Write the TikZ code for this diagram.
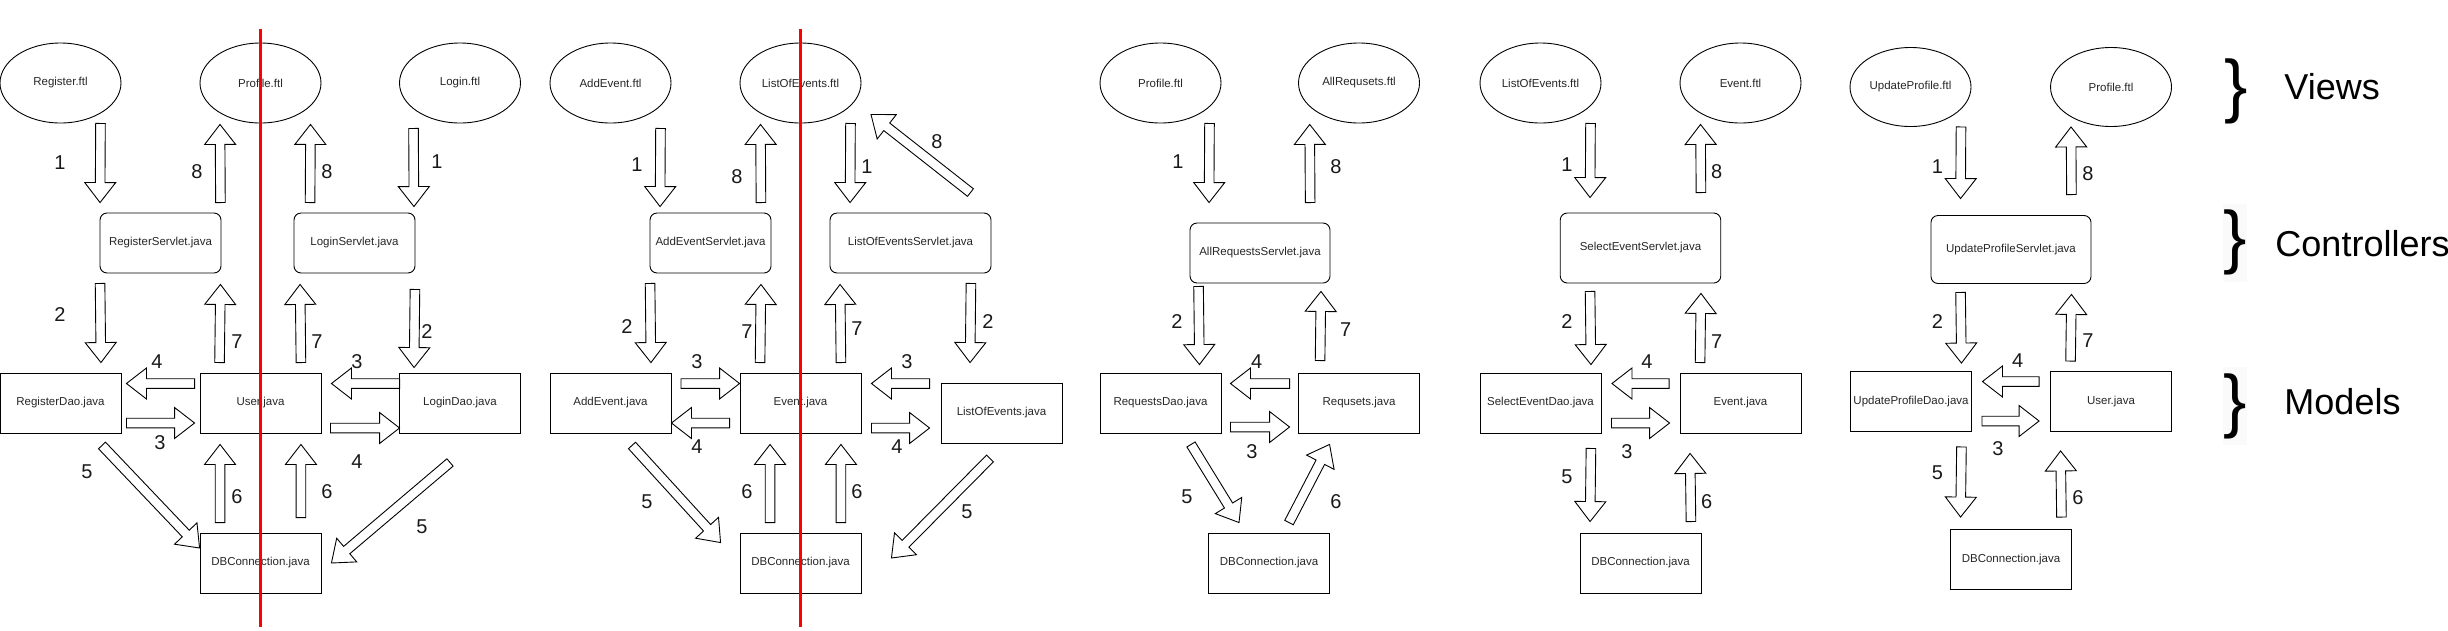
\documentclass[tikz,border=0pt]{standalone}
\usepackage{fontspec}
\setmainfont{Liberation Sans}
\usetikzlibrary{shapes.geometric,calc}

\newcommand{\lblfont}{\fontsize{11.5}{13}\selectfont}
\newcommand{\numfont}{\fontsize{20}{22}\selectfont}

% hollow block arrow from #1 to #2
\newcommand{\blockarrow}[2]{%
  \coordinate (ba) at #1;
  \coordinate (bb) at #2;
  \coordinate (bn) at ($(bb)!20pt!(ba)$);
  \draw[fill=white] ($(ba)!4.8pt!90:(bb)$) -- ($(bn)!4.8pt!-90:(ba)$)
    -- ($(bn)!15.5pt!-90:(ba)$) -- (bb) -- ($(bn)!15.5pt!90:(ba)$)
    -- ($(bn)!4.8pt!90:(ba)$) -- ($(ba)!4.8pt!-90:(bb)$) -- cycle;
}

\tikzset{
  view/.style={ellipse, draw, minimum width=121pt, minimum height=80pt,
    inner sep=0pt, font=\lblfont, text=black!85},
  ctrl/.style={rectangle, draw, rounded corners=7pt, minimum width=121pt,
    minimum height=60pt, inner sep=0pt, font=\lblfont, text=black!85},
  model/.style={rectangle, draw, minimum width=121pt, minimum height=60pt,
    inner sep=0pt, font=\lblfont, text=black!85},
  num/.style={font=\numfont, text=black!90, inner sep=0pt},
  tier/.style={font=\fontsize{36}{40}\selectfont, anchor=west, inner sep=0pt},
  brace/.style={font=\fontsize{70}{70}\selectfont, inner sep=0pt},
  cutline/.style={red, line width=2.6pt}
}

\begin{document}
\begin{tikzpicture}[x=1pt, y=-1pt, line width=0.9pt]
  \useasboundingbox (0,0) rectangle (2448,630);

  % Register / Login
  \node[view] (regv) at (60.5,83) {Register.ftl};
  \node[view] (prov) at (260.5,83) {Profile.ftl};
  \node[view] (logv) at (460,83) {Login.ftl};
  \node[ctrl] (regsrv) at (160.5,243) {RegisterServlet.java};
  \node[ctrl] (logsrv) at (354.5,243) {LoginServlet.java};
  \node[model] (regdao) at (60.5,403) {RegisterDao.java};
  \node[model] (user) at (260.5,403) {User.java};
  \node[model] (logdao) at (460,403) {LoginDao.java};
  \node[model] (db) at (260.5,563) {DBConnection.java};

  \blockarrow{($(regv.south)+(40,0)$)}{($(regsrv.north west)+(0.5,-10)$)}
  \blockarrow{($(regsrv.north east)+(-1,-10)$)}{($(prov.south)+(-40.5,1)$)}
  \blockarrow{($(logsrv.north west)+(16.5,-10)$)}{($(prov.south)+(50,1)$)}
  \blockarrow{($(logv.south)+(-46.5,5)$)}{($(logsrv.north east)+(-1.5,-6)$)}
  \blockarrow{($(regsrv.south west)+(0.5,10)$)}{($(regdao.north east)+(-20.5,-10)$)}
  \blockarrow{($(user.north west)+(20,-10)$)}{($(regsrv.south east)+(-1,11)$)}
  \blockarrow{($(user.north east)+(-20.5,-10)$)}{($(logsrv.south west)+(6.5,11)$)}
  \blockarrow{($(logsrv.south east)+(-0.5,16)$)}{($(logdao.north west)+(15,-5)$)}
  \blockarrow{($(user.west)+(-5,-19.5)$)}{($(regdao.east)+(5,-19.5)$)}
  \blockarrow{($(regdao.east)+(5,20)$)}{($(user.west)+(-5,20)$)}
  \blockarrow{($(logdao.west)+(0.5,-19.5)$)}{($(user.east)+(10,-19.5)$)}
  \blockarrow{($(user.east)+(9,25)$)}{($(logdao.west)+(0.5,25)$)}
  \blockarrow{($(regdao.south)+(41.5,12)$)}{($(db.west)+(0,-15)$)}
  \blockarrow{($(db.north west)+(20.5,-10)$)}{($(user.south west)+(20.5,11)$)}
  \blockarrow{($(db.north east)+(-20.5,-15)$)}{($(user.south east)+(-20.5,11)$)}
  \blockarrow{($(logdao.south)+(-10,29)$)}{($(db.east)+(10,0)$)}

  \node[num] (n1a) at (60,163) {1};
  \node[num] (n1b) at (197,172) {8};
  \node[num] (n1c) at (327,172) {8};
  \node[num] (n1d) at (437,162) {1};
  \node[num] (n1e) at (60,315) {2};
  \node[num] (n1f) at (237,342) {7};
  \node[num] (n1g) at (317,342) {7};
  \node[num] (n1h) at (427,332) {2};
  \node[num] (n1i) at (157,362) {4};
  \node[num] (n1j) at (160,443) {3};
  \node[num] (n1k) at (357,362) {3};
  \node[num] (n1l) at (357,462) {4};
  \node[num] (n1m) at (87,472) {5};
  \node[num] (n1n) at (237,497) {6};
  \node[num] (n1o) at (327,492) {6};
  \node[num] (n1p) at (422,527) {5};

  % AddEvent / ListOfEvents
  \node[view] (addv) at (610.5,83) {AddEvent.ftl};
  \node[view] (lstv) at (800.5,83) {ListOfEvents.ftl};
  \node[ctrl] (addsrv) at (710.5,243) {AddEventServlet.java};
  \node[ctrl, minimum width=161pt] (lstsrv) at (910.5,243) {ListOfEventsServlet.java};
  \node[model] (adddao) at (610.5,403) {AddEvent.java};
  \node[model] (event) at (800.5,403) {Event.java};
  \node[model] (lstdao) at (1001.5,413) {ListOfEvents.java};
  \node[model] (db2) at (800.5,563) {DBConnection.java};

  \blockarrow{($(addv.south)+(50,5)$)}{($(addsrv.north west)+(10.5,-6)$)}
  \blockarrow{($(addsrv.north east)+(-10.5,-10)$)}{($(lstv.south)+(-40,1)$)}
  \blockarrow{($(lstv.south)+(50,0)$)}{($(lstsrv.north west)+(20.5,-10)$)}
  \blockarrow{($(lstsrv.north east)+(-21,-20)$)}{($(lstv.south)+(70.5,-9)$)}
  \blockarrow{($(addsrv.south west)+(0.5,10)$)}{($(adddao.north east)+(-20.5,-10)$)}
  \blockarrow{($(event.north west)+(20.5,-10)$)}{($(addsrv.south east)+(-10.5,11)$)}
  \blockarrow{($(event.north east)+(-20.5,-10)$)}{($(lstsrv.south west)+(10.5,11)$)}
  \blockarrow{($(lstsrv.south east)+(-20.5,10)$)}{($(lstdao.north west)+(29.5,-20)$)}
  \blockarrow{($(adddao.east)+(9.5,-19.5)$)}{($(event.west)+(0,-19.5)$)}
  \blockarrow{($(event.west)+(-10,20)$)}{($(adddao.east)+(0,20)$)}
  \blockarrow{($(lstdao.west)+(-11,-29.5)$)}{($(event.east)+(10,-19.5)$)}
  \blockarrow{($(event.east)+(10,25)$)}{($(lstdao.west)+(-11,15)$)}
  \blockarrow{($(adddao.south)+(21.5,12)$)}{($(db2.north west)+(-19,10)$)}
  \blockarrow{($(db2.north west)+(30.5,-10)$)}{($(event.south west)+(30.5,11)$)}
  \blockarrow{($(db2.north east)+(-20.5,-10)$)}{($(event.south east)+(-20.5,11)$)}
  \blockarrow{($(lstdao.south)+(-11.5,15)$)}{($(db2.east)+(30,-5)$)}

  \node[num] (n2a) at (637,165) {1};
  \node[num] (n2b) at (737,177) {8};
  \node[num] (n2c) at (867,167) {1};
  \node[num] (n2d) at (937,142) {8};
  \node[num] (n2e) at (627,327) {2};
  \node[num] (n2f) at (747,332) {7};
  \node[num] (n2g) at (857,329) {7};
  \node[num] (n2h) at (988,322) {2};
  \node[num] (n2i) at (697,362) {3};
  \node[num] (n2j) at (697,447) {4};
  \node[num] (n2k) at (907,362) {3};
  \node[num] (n2l) at (897,447) {4};
  \node[num] (n2m) at (647,502) {5};
  \node[num] (n2n) at (747,492) {6};
  \node[num] (n2o) at (857,492) {6};
  \node[num] (n2p) at (967,512) {5};

  % AllRequests
  \node[view] (pro3v) at (1160.5,83) {Profile.ftl};
  \node[view] (reqv) at (1359,83) {AllRequsets.ftl};
  \node[ctrl, minimum width=140pt] (reqsrv) at (1260,253) {AllRequestsServlet.java};
  \node[model] (reqdao) at (1160.5,403) {RequestsDao.java};
  \node[model] (reqs) at (1359,403) {Requsets.java};
  \node[model] (db3) at (1269,563) {DBConnection.java};

  \blockarrow{($(pro3v.south)+(49,0)$)}{($(reqsrv.north west)+(19.5,-20)$)}
  \blockarrow{($(reqsrv.north east)+(-20.3,-20)$)}{($(reqv.south)+(-49.3,1)$)}
  \blockarrow{($(reqsrv.south west)+(9,3)$)}{($(reqdao.north east)+(-22,-8)$)}
  \blockarrow{($(reqs.north west)+(22,-12)$)}{($(reqsrv.south east)+(-9.5,8)$)}
  \blockarrow{($(reqs.west)+(-8.5,-19.5)$)}{($(reqdao.east)+(9,-19.5)$)}
  \blockarrow{($(reqdao.east)+(9,24)$)}{($(reqs.west)+(-8.5,24)$)}
  \blockarrow{($(reqdao.south)+(30.5,11)$)}{($(db3.north)+(-30,-10)$)}
  \blockarrow{($(db3.north)+(20,-10)$)}{($(reqs.south west)+(31.5,11)$)}

  \node[num] (n3a) at (1178,162) {1};
  \node[num] (n3b) at (1336,167) {8};
  \node[num] (n3c) at (1177,322) {2};
  \node[num] (n3d) at (1345.7,330) {7};
  \node[num] (n3e) at (1256.7,362) {4};
  \node[num] (n3f) at (1252,452) {3};
  \node[num] (n3g) at (1187,497) {5};
  \node[num] (n3h) at (1336,502) {6};

  % SelectEvent
  \node[view] (lst4v) at (1540.5,83) {ListOfEvents.ftl};
  \node[view] (evv) at (1740.5,83) {Event.ftl};
  \node[ctrl, minimum width=160.5pt, minimum height=70pt] (selsrv) at (1640.5,248) {SelectEventServlet.java};
  \node[model] (seldao) at (1540.5,403) {SelectEventDao.java};
  \node[model] (ev4) at (1740.5,403) {Event.java};
  \node[model] (db4) at (1640.5,563) {DBConnection.java};

  \blockarrow{($(lst4v.south)+(50,0)$)}{($(selsrv.north west)+(30.25,-15)$)}
  \blockarrow{($(selsrv.north east)+(-20.25,-20)$)}{($(evv.south)+(-40,1)$)}
  \blockarrow{($(selsrv.south west)+(30.25,8)$)}{($(seldao.north east)+(-10.5,-8)$)}
  \blockarrow{($(ev4.north west)+(20.5,-10)$)}{($(selsrv.south east)+(-20.25,10)$)}
  \blockarrow{($(ev4.west)+(-10.5,-19.5)$)}{($(seldao.east)+(10.5,-19.5)$)}
  \blockarrow{($(seldao.east)+(10,20)$)}{($(ev4.west)+(-10,20)$)}
  \blockarrow{($(seldao.south east)+(-10.5,15)$)}{($(db4.north west)+(10.5,-11)$)}
  \blockarrow{($(db4.north east)+(-10.5,-11)$)}{($(ev4.south west)+(10.5,20)$)}

  \node[num] (n4a) at (1567,165) {1};
  \node[num] (n4b) at (1716.7,172) {8};
  \node[num] (n4c) at (1567,322) {2};
  \node[num] (n4d) at (1716.7,342) {7};
  \node[num] (n4e) at (1647,362) {4};
  \node[num] (n4f) at (1627,452) {3};
  \node[num] (n4g) at (1567,477) {5};
  \node[num] (n4h) at (1706.7,502) {6};

  % UpdateProfile
  \node[view, minimum height=79pt] (updv) at (1910.5,87) {UpdateProfile.ftl};
  \node[view, minimum height=79pt] (pro5v) at (2111,87) {Profile.ftl};
  \node[ctrl, minimum width=160pt, minimum height=68pt] (updsrv) at (2011,249.5) {UpdateProfileServlet.java};
  \node[model] (upddao) at (1911,401.5) {UpdateProfileDao.java};
  \node[model] (user5) at (2111,401.5) {User.java};
  \node[model] (db5) at (2011,559.5) {DBConnection.java};

  \blockarrow{($(updv.south)+(50.5,0)$)}{($(updsrv.north west)+(30,-16.5)$)}
  \blockarrow{($(updsrv.north east)+(-20,-20.5)$)}{($(pro5v.south)+(-40,0)$)}
  \blockarrow{($(updsrv.south west)+(30,8.5)$)}{($(upddao.north east)+(-10.5,-8)$)}
  \blockarrow{($(user5.north west)+(20.5,-10)$)}{($(updsrv.south east)+(-20,10.5)$)}
  \blockarrow{($(user5.west)+(-11,-20)$)}{($(upddao.east)+(10.5,-20)$)}
  \blockarrow{($(upddao.east)+(10,19.5)$)}{($(user5.west)+(-11,19.5)$)}
  \blockarrow{($(upddao.south east)+(-10.5,15)$)}{($(db5.north west)+(10.5,-12)$)}
  \blockarrow{($(db5.north east)+(-10.5,-12)$)}{($(user5.south west)+(10.5,19)$)}

  \node[num] (n5a) at (1937.5,167) {1};
  \node[num] (n5b) at (2088,174) {8};
  \node[num] (n5c) at (1937.5,322) {2};
  \node[num] (n5d) at (2088,341) {7};
  \node[num] (n5e) at (2017.7,360.5) {4};
  \node[num] (n5f) at (1998,449) {3};
  \node[num] (n5g) at (1937.5,473) {5};
  \node[num] (n5h) at (2078,498) {6};

  % tiers
  \node[brace] (bview) at (2236,91.5) {\}};
  \node[brace, fill=black!2, minimum height=78pt] (bctrl) at (2235,242.5) {\}};
  \node[brace, fill=black!2, minimum height=78pt] (bmodel) at (2235,406) {\}};
  \node[tier] (views) at (2284,87) {Views};
  \node[tier] (ctrls) at (2275,244) {Controllers};
  \node[tier] (models) at (2284,402) {Models};

  % red cut lines
  \draw[cutline] ($(prov.north)+(0,-14)$) -- ($(db.south)+(0,34)$);
  \draw[cutline] ($(lstv.north)+(0,-14)$) -- ($(db2.south)+(0,34)$);

\end{tikzpicture}
\end{document}
